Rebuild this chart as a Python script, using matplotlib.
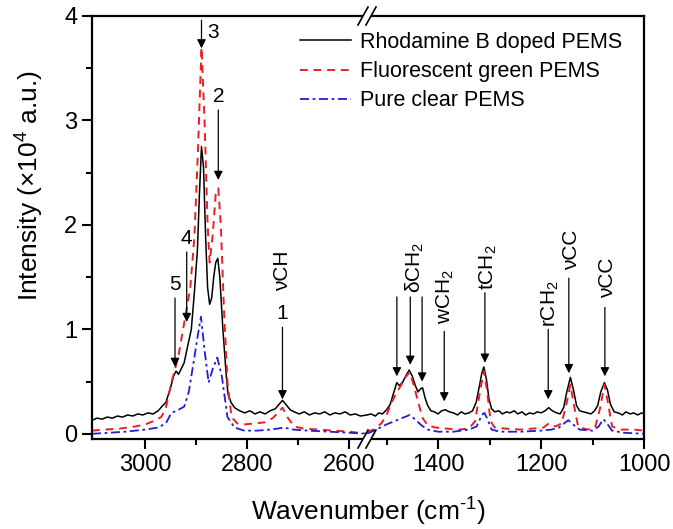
import matplotlib.pyplot as plt
from matplotlib.lines import Line2D
from matplotlib.patches import Rectangle

plt.rcParams['font.family'] = ['Liberation Sans', 'DejaVu Sans']
plt.rcParams['mathtext.fontset'] = 'custom'
plt.rcParams['mathtext.rm'] = 'Liberation Sans'
plt.rcParams['mathtext.it'] = 'Liberation Sans:italic'

# ---- C-H stretching region (left panel) ----
wn_hi_black = [3105, 3095, 3085, 3075, 3065, 3055, 3045, 3035, 3025, 3015, 3005, 2995,
               2985, 2975, 2968, 2960, 2952, 2945, 2940, 2935, 2930, 2924, 2918, 2910,
               2904, 2898, 2894, 2890, 2886, 2882, 2878, 2874, 2870, 2866, 2862, 2858,
               2854, 2848, 2842, 2838, 2832, 2825, 2815, 2805, 2795, 2785, 2775, 2765,
               2755, 2745, 2738, 2731, 2724, 2716, 2708, 2698, 2688, 2678, 2668, 2658,
               2648, 2638, 2628, 2618, 2608, 2598, 2588, 2578, 2565]
rhod_hi = [0.13, 0.15, 0.14, 0.16, 0.15, 0.17, 0.16, 0.18, 0.17, 0.19, 0.18, 0.20,
           0.19, 0.22, 0.26, 0.30, 0.42, 0.55, 0.60, 0.57, 0.62, 0.68, 0.82, 1.00,
           1.35, 1.76, 2.30, 2.75, 2.55, 1.90, 1.40, 1.24, 1.30, 1.50, 1.64, 1.68,
           1.50, 1.00, 0.60, 0.38, 0.30, 0.25, 0.22, 0.20, 0.22, 0.19, 0.21, 0.19,
           0.22, 0.24, 0.28, 0.32, 0.28, 0.23, 0.21, 0.19, 0.21, 0.18, 0.20, 0.19,
           0.21, 0.18, 0.20, 0.19, 0.21, 0.18, 0.19, 0.17, 0.18]

wn_hi_red = [3105, 3080, 3050, 3020, 3000, 2985, 2969, 2960, 2949, 2935, 2924, 2912,
             2904, 2897, 2890, 2884, 2878, 2874, 2868, 2862, 2857, 2852, 2846, 2839,
             2831, 2820, 2805, 2785, 2765, 2750, 2740, 2731, 2720, 2708, 2690, 2660,
             2630, 2600, 2565]
green_hi = [0.03, 0.04, 0.05, 0.07, 0.09, 0.12, 0.16, 0.25, 0.49, 0.75, 1.06, 1.40,
            1.88, 2.70, 3.70, 3.00, 2.00, 1.64, 1.90, 2.30, 2.35, 2.00, 1.20, 0.49,
            0.16, 0.10, 0.09, 0.10, 0.11, 0.15, 0.20, 0.25, 0.15, 0.07, 0.05, 0.04,
            0.03, 0.02, 0.00]

wn_hi_blue = [3105, 3070, 3040, 3000, 2975, 2960, 2949, 2935, 2924, 2915, 2905, 2897,
              2891, 2884, 2876, 2868, 2859, 2850, 2839, 2825, 2806, 2780, 2755, 2740,
              2728, 2710, 2680, 2640, 2600, 2565]
clear_hi = [0.00, 0.01, 0.02, 0.04, 0.06, 0.10, 0.20, 0.23, 0.26, 0.40, 0.70, 0.95,
            1.12, 0.80, 0.49, 0.62, 0.73, 0.55, 0.16, 0.06, 0.03, 0.03, 0.04, 0.05,
            0.06, 0.04, 0.03, 0.02, 0.01, 0.00]

# ---- fingerprint region (right panel) ----
wn_lo_black = [1538, 1530, 1522, 1515, 1508, 1500, 1493, 1487, 1480, 1475, 1468, 1462,
               1456, 1450, 1444, 1439, 1434, 1430, 1425, 1420, 1414, 1407, 1400, 1393,
               1386, 1378, 1370, 1362, 1355, 1348, 1340, 1333, 1326, 1320, 1315, 1311,
               1306, 1301, 1296, 1290, 1282, 1275, 1267, 1260, 1252, 1245, 1237, 1230,
               1222, 1215, 1207, 1200, 1192, 1185, 1178, 1170, 1163, 1156, 1150, 1143,
               1137, 1131, 1125, 1118, 1110, 1103, 1096, 1090, 1084, 1077, 1071, 1065,
               1058, 1050, 1042, 1035, 1027, 1020, 1012, 1005, 1000]
rhod_lo = [0.18, 0.19, 0.17, 0.20, 0.19, 0.23, 0.28, 0.38, 0.49, 0.46, 0.50, 0.56,
           0.61, 0.55, 0.46, 0.40, 0.43, 0.44, 0.34, 0.27, 0.22, 0.21, 0.19, 0.22,
           0.23, 0.21, 0.20, 0.18, 0.21, 0.19, 0.20, 0.22, 0.30, 0.45, 0.58, 0.64,
           0.52, 0.33, 0.24, 0.21, 0.22, 0.19, 0.21, 0.20, 0.22, 0.19, 0.21, 0.18,
           0.20, 0.19, 0.21, 0.20, 0.22, 0.25, 0.22, 0.20, 0.19, 0.25, 0.40, 0.54,
           0.42, 0.27, 0.22, 0.21, 0.20, 0.19, 0.22, 0.27, 0.40, 0.49, 0.42, 0.28,
           0.21, 0.20, 0.18, 0.21, 0.19, 0.20, 0.18, 0.20, 0.19]

wn_lo_red = [1538, 1525, 1510, 1500, 1490, 1480, 1470, 1462, 1455, 1448, 1440, 1430,
             1420, 1405, 1385, 1360, 1340, 1328, 1318, 1311, 1305, 1298, 1290, 1270,
             1240, 1215, 1195, 1185, 1172, 1160, 1150, 1143, 1137, 1128, 1110, 1095,
             1085, 1077, 1070, 1062, 1045, 1020, 1000]
green_lo = [0.02, 0.04, 0.10, 0.18, 0.30, 0.40, 0.48, 0.55, 0.59, 0.48, 0.33, 0.15,
            0.08, 0.06, 0.05, 0.04, 0.05, 0.12, 0.42, 0.60, 0.42, 0.12, 0.06, 0.05,
            0.04, 0.05, 0.06, 0.10, 0.07, 0.10, 0.30, 0.47, 0.30, 0.07, 0.04, 0.06,
            0.25, 0.47, 0.30, 0.07, 0.04, 0.04, 0.03]

wn_lo_blue = [1538, 1520, 1500, 1480, 1465, 1455, 1445, 1432, 1420, 1400, 1370, 1340,
              1325, 1315, 1310, 1304, 1296, 1280, 1240, 1200, 1180, 1165, 1155, 1147,
              1138, 1125, 1100, 1088, 1079, 1072, 1062, 1040, 1000]
clear_lo = [0.00, 0.04, 0.09, 0.13, 0.16, 0.18, 0.14, 0.08, 0.04, 0.02, 0.02, 0.04,
            0.07, 0.18, 0.20, 0.14, 0.04, 0.02, 0.02, 0.03, 0.04, 0.06, 0.10, 0.13,
            0.09, 0.04, 0.03, 0.07, 0.14, 0.10, 0.03, 0.01, 0.00]

series_names = ['Rhodamine B doped PEMS', 'Fluorescent green PEMS', 'Pure clear PEMS']

# band assignments: (label, wavenumber, arrow tail, arrow tip)
bands_hi = [('3', 2890, 3.96, 3.69), ('2', 2857, 3.10, 2.43),
            ('4', 2919, 1.74, 1.07), ('5', 2942, 1.30, 0.64),
            ('1', 2731, 1.02, 0.33)]
bands_lo = [('', 1480, 1.31, 0.55), ('', 1454, 1.31, 0.66), ('', 1431, 1.31, 0.50),
            ('', 1388, 0.98, 0.31), ('', 1309, 1.35, 0.68), ('', 1186, 1.00, 0.33),
            ('', 1146, 1.49, 0.58), ('', 1076, 1.21, 0.55)]
# rotated group labels: (text, wavenumber, y centre)
groups_hi = [('νCH', 2731, 1.56)]
groups_lo = [('δCH$_2$', 1445, 1.59), ('wCH$_2$', 1385, 1.31), ('tCH$_2$', 1303, 1.59),
             ('rCH$_2$', 1181, 1.25), ('νCC', 1140, 1.76), ('νCC', 1070, 1.49)]

W, H = 673, 529
fig = plt.figure(figsize=(W / 100, H / 100), dpi=100)


def fx(px):
    return px / W


def fy(py):
    return 1 - py / H


x0, xb, x1, ytop, ybot = 92, 367, 644, 16, 439
ax1 = fig.add_axes([fx(x0), fy(ybot), fx(xb) - fx(x0), fy(ytop) - fy(ybot)])
ax2 = fig.add_axes([fx(xb), fy(ybot), fx(x1) - fx(xb), fy(ytop) - fy(ybot)], sharey=ax1)

styles = [dict(color='black', ls='-', lw=1.1),
          dict(color='#ee1c24', ls=(0, (4, 3)), lw=1.4),
          dict(color='#1f1fd6', ls=(0, (5, 2, 1.5, 2)), lw=1.3)]

for ax, data in [(ax1, [(wn_hi_black, rhod_hi), (wn_hi_red, green_hi), (wn_hi_blue, clear_hi)]),
                 (ax2, [(wn_lo_black, rhod_lo), (wn_lo_red, green_lo), (wn_lo_blue, clear_lo)])]:
    for (xs, ys), st, name in zip(data, styles, series_names):
        ax.plot(xs, ys, label=name, **st)

ax1.set_xlim(3105, 2565)
ax2.set_xlim(1538, 1000)
ax1.set_ylim(-0.05, 4.0)

ax1.set_xticks([3000, 2800, 2600])
ax1.set_xticks([2900, 2700], minor=True)
ax2.set_xticks([1400, 1200, 1000])
ax2.set_xticks([1500, 1300, 1100], minor=True)
ax1.set_yticks([0, 1, 2, 3, 4])
ax1.set_yticks([0.5, 1.5, 2.5, 3.5], minor=True)

for ax in (ax1, ax2):
    for s in ax.spines.values():
        s.set_linewidth(1.6)
    ax.tick_params(which='major', direction='out', length=7, width=1.5, labelsize=17)
    ax.tick_params(which='minor', direction='out', length=4, width=1.5)
ax1.spines['right'].set_visible(False)
ax2.spines['left'].set_visible(False)
ax2.tick_params(which='both', left=False, labelleft=False)

arrow = dict(arrowstyle='-|>', lw=0.9, color='black', mutation_scale=13,
             shrinkA=0, shrinkB=0)
for ax, bands in [(ax1, bands_hi), (ax2, bands_lo)]:
    for lab, w, tail, tip in bands:
        ax.annotate('', xy=(w, tip), xytext=(w, tail), arrowprops=arrow)
for lab, w, tail, tip in bands_hi:
    if lab in ('3',):
        ax1.text(w - 12, (tail + tip) / 2 + 0.02, lab, fontsize=15, ha='left', va='center')
    else:
        ax1.text(w, tail + 0.13, lab, fontsize=15, ha='center', va='center')
for ax, groups in [(ax1, groups_hi), (ax2, groups_lo)]:
    for txt, w, yc in groups:
        ax.text(w, yc, txt, fontsize=15, rotation=90, ha='center', va='center')

# axis break marks
for py in (ytop, ybot):
    fig.patches.append(Rectangle((fx(xb - 4), fy(py + 5)), fx(8), fy(0) - fy(10),
                                 transform=fig.transFigure, facecolor='white',
                                 edgecolor='none', zorder=5))
    for dx in (-4, 4):
        fig.lines.append(Line2D([fx(xb + dx - 5), fx(xb + dx + 5)],
                                [fy(py + 9), fy(py - 9)], transform=fig.transFigure,
                                color='black', lw=1.2, zorder=6))

handles = ax1.get_lines()[:3]
fig.legend(handles, series_names, loc='upper left', bbox_to_anchor=(fx(300), fy(32)),
           frameon=False, fontsize=15.5, handlelength=2.35, handletextpad=0.45,
           labelspacing=0.38, borderpad=0, borderaxespad=0)

fig.text(fx(368), fy(512), r'Wavenumber (cm$^{\text{-1}}$)', fontsize=19,
         ha='center', va='center')
fig.text(fx(30), fy(186), 'Intensity (×10$^4$ a.u.)', fontsize=19, rotation=90,
         ha='center', va='center')

fig.savefig('out.png', dpi=100)
